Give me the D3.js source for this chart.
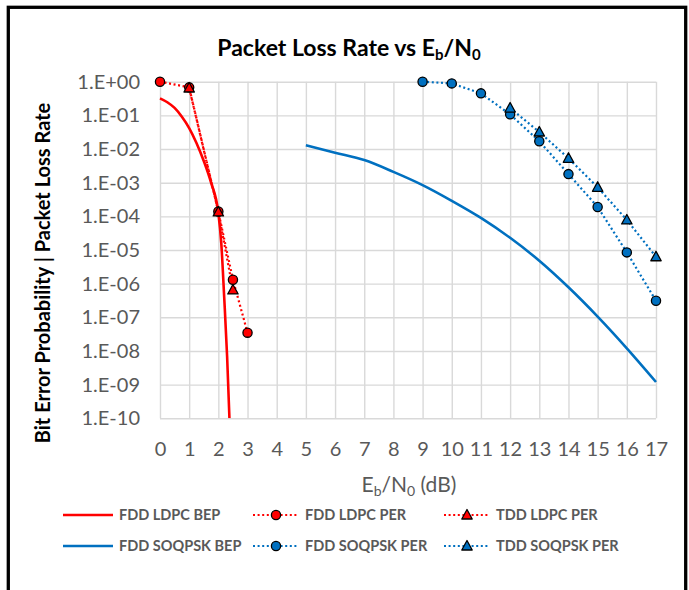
<!DOCTYPE html>
<html>
<head>
<meta charset="utf-8">
<script src="https://cdn.jsdelivr.net/npm/d3@7"></script>
<style>
  body { margin: 0; background: #fff; }
  text { font-family: Lato, "Open Sans", sans-serif; }
</style>
</head>
<body>
<div id="example-container"></div>
<script>
// x values in dB
var ldpcBepX = [0, 0.25, 0.5, 0.75, 1, 1.25, 1.5, 1.75, 2, 2.1, 2.2, 2.3, 2.38];
var ldpcBepY = [0.32, 0.245, 0.166, 0.091, 0.042, 0.0151, 0.0044, 1e-3, 1.26e-4, 1.6e-5, 4e-7, 7e-9, 1e-10];

var ldpcFddPerX = [0, 1, 2, 2.5, 3];
var ldpcFddPerY = [1, 0.68, 1.4e-4, 1.3e-6, 3.5e-8];

var ldpcTddPerX = [1, 2, 2.5];
var ldpcTddPerY = [0.65, 1.35e-4, 6.5e-7];

var soqBepX = [5, 6, 7, 8, 9, 10, 11, 12, 13, 14, 15, 16, 17];
var soqBepY = [1.3e-2, 7.8e-3, 4.7e-3, 2.1e-3, 8.5e-4, 2.9e-4, 9e-5, 2.3e-5, 4.8e-6, 7.8e-7, 1.05e-7, 1.2e-8, 1.2e-9];

var soqFddPerX = [9, 10, 11, 12, 13, 14, 15, 16, 17];
var soqFddPerY = [1, 0.89, 0.45, 0.107, 0.017, 1.8e-3, 1.9e-4, 8.5e-6, 3.1e-7];

var soqTddPerX = [12, 13, 14, 15, 16, 17];
var soqTddPerY = [0.165, 0.032, 5.3e-3, 7.3e-4, 7.8e-5, 6.3e-6];

var xTicks = [0, 1, 2, 3, 4, 5, 6, 7, 8, 9, 10, 11, 12, 13, 14, 15, 16, 17];
var yTicks = [1, 1e-1, 1e-2, 1e-3, 1e-4, 1e-5, 1e-6, 1e-7, 1e-8, 1e-9, 1e-10];
var yTickLabels = ["1.E+00", "1.E-01", "1.E-02", "1.E-03", "1.E-04", "1.E-05",
  "1.E-06", "1.E-07", "1.E-08", "1.E-09", "1.E-10"];

var RED = "#ff0000", BLUE = "#0070c0";

var series = [
  { name: "FDD LDPC BEP", xs: ldpcBepX, ys: ldpcBepY, color: RED, dotted: false, marker: null },
  { name: "FDD SOQPSK BEP", xs: soqBepX, ys: soqBepY, color: BLUE, dotted: false, marker: null },
  { name: "FDD LDPC PER", xs: ldpcFddPerX, ys: ldpcFddPerY, color: RED, dotted: true, marker: "circle" },
  { name: "TDD LDPC PER", xs: ldpcTddPerX, ys: ldpcTddPerY, color: RED, dotted: true, marker: "triangle" },
  { name: "FDD SOQPSK PER", xs: soqFddPerX, ys: soqFddPerY, color: BLUE, dotted: true, marker: "circle" },
  { name: "TDD SOQPSK PER", xs: soqTddPerX, ys: soqTddPerY, color: BLUE, dotted: true, marker: "triangle" }
];

var W = 689, H = 590;
var plot = { left: 160, right: 656, top: 81.7, bottom: 418.3 };

var svg = d3
  .select("#example-container")
  .append("svg")
  .attr("width", W)
  .attr("height", H);

svg.append("rect")
  .attr("x", 8.3).attr("y", 7.3)
  .attr("width", 677.4).attr("height", 600)
  .attr("fill", "#fff")
  .attr("stroke", "#000")
  .attr("stroke-width", 3.3);

var x = d3.scaleLinear().domain([0, 17]).range([plot.left, plot.right]);
var y = d3.scaleLog().domain([1e-10, 1]).range([plot.bottom, plot.top]);

// gridlines
svg.append("g")
  .attr("class", "grid")
  .attr("transform", "translate(0," + plot.bottom + ")")
  .call(d3.axisBottom(x).tickValues(xTicks).tickSize(-(plot.bottom - plot.top)).tickFormat(""))
  .call(function(g) { g.select(".domain").remove(); });

svg.append("g")
  .attr("class", "grid")
  .attr("transform", "translate(" + plot.left + ",0)")
  .call(d3.axisLeft(y).tickValues(yTicks).tickSize(-(plot.right - plot.left)).tickFormat(""))
  .call(function(g) { g.select(".domain").remove(); });

svg.selectAll(".grid line")
  .attr("stroke", "#d9d9d9")
  .attr("stroke-width", 1.4);

// tick labels
svg.append("g")
  .attr("transform", "translate(0," + plot.bottom + ")")
  .call(d3.axisBottom(x).tickValues(xTicks).tickSize(0).tickPadding(24))
  .call(function(g) { g.select(".domain").remove(); })
  .selectAll("text")
  .attr("font-size", 20)
  .attr("fill", "#595959");

svg.append("g")
  .attr("transform", "translate(" + plot.left + ",0)")
  .call(d3.axisLeft(y).tickValues(yTicks).tickSize(0).tickPadding(20)
    .tickFormat(function(d, i) { return yTickLabels[i]; }))
  .call(function(g) { g.select(".domain").remove(); })
  .selectAll("text")
  .attr("font-size", 20)
  .attr("fill", "#595959");

svg.selectAll(".tick text").attr("font-family", "Lato, 'Open Sans', sans-serif");

// lines
var clip = svg.append("clipPath").attr("id", "plotclip")
  .append("rect")
  .attr("x", plot.left - 10).attr("y", plot.top - 10)
  .attr("width", plot.right - plot.left + 20)
  .attr("height", plot.bottom - plot.top + 10);

function pts(s) {
  return s.xs.map(function(v, i) { return [v, s.ys[i]]; });
}

var smoothLine = d3.line()
  .x(function(d) { return x(d[0]); })
  .y(function(d) { return y(d[1]); })
  .curve(d3.curveMonotoneX);

var straightLine = d3.line()
  .x(function(d) { return x(d[0]); })
  .y(function(d) { return y(d[1]); });

var lines = svg.append("g").attr("clip-path", "url(#plotclip)");

series.forEach(function(s) {
  lines.append("path")
    .attr("d", s.dotted ? straightLine(pts(s)) : smoothLine(pts(s)))
    .attr("fill", "none")
    .attr("stroke", s.color)
    .attr("stroke-width", s.dotted ? 2.2 : 2.6)
    .attr("stroke-dasharray", s.dotted ? "2,2.6" : null);
});

function drawMarker(g, type, cx, cy, color) {
  if (type === "circle") {
    g.append("circle")
      .attr("cx", cx).attr("cy", cy).attr("r", 4.6)
      .attr("fill", color).attr("stroke", "#000").attr("stroke-width", 1.3);
  } else if (type === "triangle") {
    g.append("path")
      .attr("d", "M" + cx + "," + (cy - 5.5) + "L" + (cx + 5.2) + "," + (cy + 4) + "L" + (cx - 5.2) + "," + (cy + 4) + "Z")
      .attr("fill", color).attr("stroke", "#000").attr("stroke-width", 1.3)
      .attr("stroke-linejoin", "round");
  }
}

var markers = svg.append("g");
series.forEach(function(s) {
  if (!s.marker) return;
  pts(s).forEach(function(p) {
    drawMarker(markers, s.marker, x(p[0]), y(p[1]), s.color);
  });
});

// titles
var title = svg.append("text")
  .attr("x", 349).attr("y", 56)
  .attr("text-anchor", "middle")
  .attr("font-size", 23)
  .attr("font-weight", "bold")
  .attr("fill", "#000");
title.append("tspan").text("Packet  Loss Rate vs E");
title.append("tspan").attr("font-size", 15).attr("dy", 4).text("b");
title.append("tspan").attr("dy", -4).text("/N");
title.append("tspan").attr("font-size", 15).attr("dy", 4).text("0");

var xTitle = svg.append("text")
  .attr("x", 409).attr("y", 492)
  .attr("text-anchor", "middle")
  .attr("font-size", 21)
  .attr("fill", "#595959");
xTitle.append("tspan").text("E");
xTitle.append("tspan").attr("font-size", 14).attr("dy", 4).text("b");
xTitle.append("tspan").attr("dy", -4).text("/N");
xTitle.append("tspan").attr("font-size", 14).attr("dy", 4).text("0");
xTitle.append("tspan").attr("dy", -4).text(" (dB)");

svg.append("text")
  .attr("transform", "translate(50,273) rotate(-90)")
  .attr("text-anchor", "middle")
  .attr("font-size", 20)
  .attr("font-weight", "bold")
  .attr("fill", "#000")
  .text("Bit Error Probability | Packet Loss Rate");

// legend
var legendCols = [63, 253, 444];
var legendRows = [515, 546];
var legendOrder = [
  series[0], series[2], series[3],
  series[1], series[4], series[5]
];

legendOrder.forEach(function(s, i) {
  var lx = legendCols[i % 3], ly = legendRows[Math.floor(i / 3)];
  var g = svg.append("g");
  var len = s.dotted ? 46 : 50;
  g.append("line")
    .attr("x1", lx).attr("x2", lx + len)
    .attr("y1", ly).attr("y2", ly)
    .attr("stroke", s.color)
    .attr("stroke-width", s.dotted ? 2.2 : 2.6)
    .attr("stroke-dasharray", s.dotted ? "2,2.6" : null);
  if (s.marker) drawMarker(g, s.marker, lx + len / 2, ly, s.color);
  g.append("text")
    .attr("x", lx + len + 6)
    .attr("y", ly + 5)
    .attr("font-size", 14.5)
    .attr("font-weight", "bold")
    .attr("fill", "#595959")
    .text(s.name);
});
</script>
</body>
</html>
